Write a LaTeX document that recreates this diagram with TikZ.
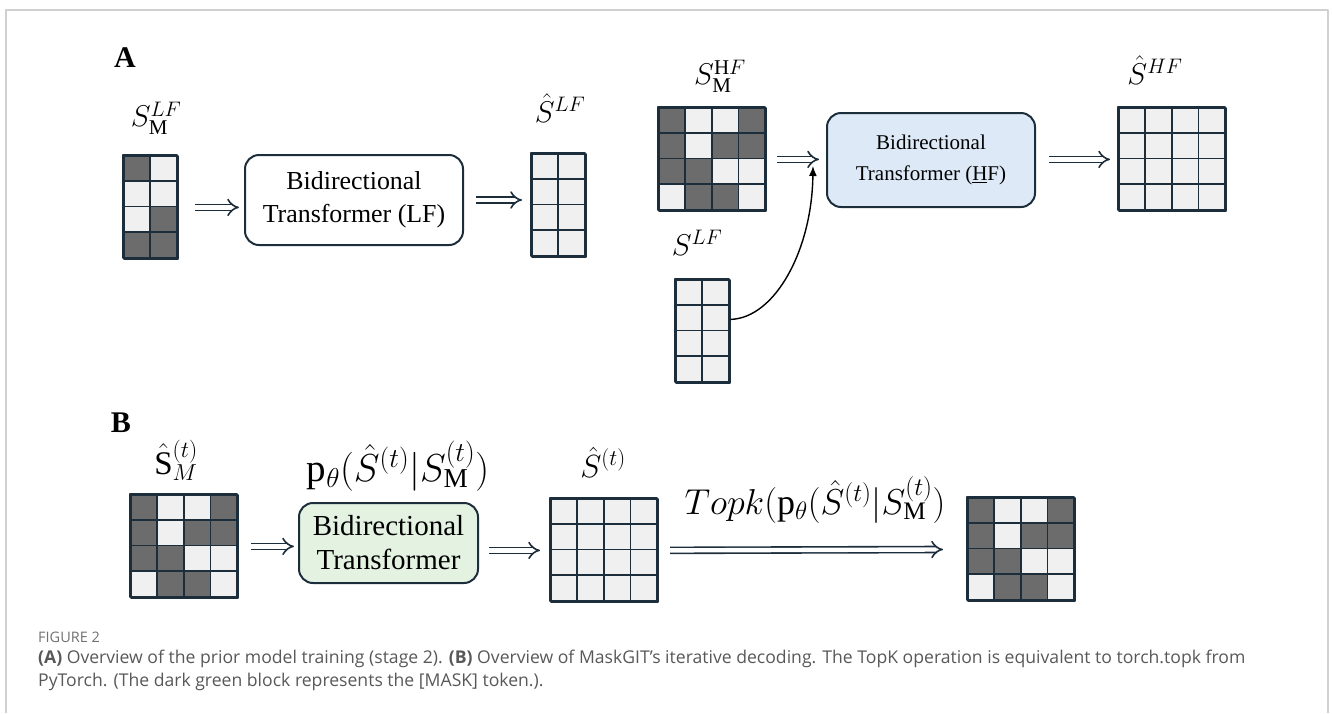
\RequirePackage{fix-cm}
\documentclass[tikz,border=0pt]{standalone}
\usepackage{fontspec}
\setmainfont{Liberation Serif}
\newfontfamily\capfont{Open Sans}
\usetikzlibrary{arrows.meta}

\definecolor{gridnavy}{RGB}{28,45,60}
\definecolor{maskgray}{RGB}{108,108,108}
\definecolor{tokenlight}{RGB}{240,240,240}
\definecolor{hfblue}{RGB}{221,233,246}
\definecolor{decgreen}{RGB}{228,242,226}
\definecolor{framegray}{RGB}{208,208,208}
\definecolor{capgray}{RGB}{88,88,88}

% token grid: name, left, top, columns, rows (1 = masked)
\newcommand{\tokgrid}[5]{%
  \foreach \rowspec [count=\rowno] in {#5} {
    \foreach \cellv [count=\colno] in \rowspec {
      \ifnum\cellv=1 \def\cellcol{maskgray}\else\def\cellcol{tokenlight}\fi
      \filldraw[fill=\cellcol,draw=gridnavy,line width=1.8pt]
        ({#2+(\colno-1)*26.8},{#3+(\rowno-1)*25.7}) rectangle ++(26.8,25.7);
    }
  }
  \node[inner sep=0pt,minimum width={#4*26.8pt},minimum height={4*25.7pt},
    anchor=north west,draw=gridnavy,line width=2pt] (#1) at (#2,#3) {};
}

\begin{document}
\begin{tikzpicture}[x=1pt,y=-1pt,line join=round,
    tfbox/.style={draw=gridnavy,line width=2pt,rounded corners=14pt,align=center,inner sep=2pt},
    fatarrow/.style={draw=gridnavy,double=white,double distance=4.4pt,line width=1.6pt,-{Implies}},
    lbl/.style={font=\fontsize{30}{36}\selectfont,inner sep=0pt}]
        \useasboundingbox (0,0) rectangle (1332,713);
        \draw[framegray,line width=1.2pt] (6,713) -- (6,10) -- (1328,10) -- (1328,713);

        % panel A
        \node[font=\fontsize{30}{36}\selectfont\bfseries] (tagA) at (125,58) {A};

        \tokgrid{lfin}{123}{155}{2}{{1,0},{0,0},{0,1},{1,1}}
        \node[lbl] (lfinlbl) at (156,118) {$S_{\mathrm{M}}^{LF}$};

        \node[tfbox,minimum width=218pt,minimum height=90pt,
            font=\fontsize{25.9}{33}\selectfont] (lfbox) at (354,200)
            {Bidirectional\\Transformer (LF)};

        \tokgrid{lfout}{531}{153}{2}{{0,0},{0,0},{0,0},{0,0}}
        \node[lbl] (lfoutlbl) at (560,108) {$\hat{S}^{LF}$};

        \draw[fatarrow,shorten <=16pt,shorten >=5pt] (lfin.east) -- (lfin.east -| lfbox.west);
        \draw[fatarrow,shorten <=12pt,shorten >=9pt] (lfbox.east) -- (lfbox.east -| lfout.west);

        \tokgrid{hfin}{658}{107}{4}{{1,0,0,1},{1,0,1,1},{1,1,0,0},{0,1,1,0}}
        \node[lbl] (hfinlbl) at (720,76) {$S_{\mathrm{M}}^{\mathrm{H}F}$};

        \node[tfbox,fill=hfblue,minimum width=208pt,minimum height=94pt,
            font=\fontsize{21}{31}\selectfont] (hfbox) at (931,160)
            {Bidirectional\\Transformer (\underline{H}F)};

        \tokgrid{hfout}{1118}{107}{4}{{0,0,0,0},{0,0,0,0},{0,0,0,0},{0,0,0,0}}
        \node[lbl] (hfoutlbl) at (1155,70) {$\hat{S}^{HF}$};

        \tokgrid{slf}{675}{279}{2}{{0,0},{0,0},{0,0},{0,0}}
        \node[lbl] (slflbl) at (697,243) {$S^{LF}$};

        \draw[fatarrow,shorten <=10pt,shorten >=7pt] (hfin.east) -- (hfin.east -| hfbox.west);
        \draw[fatarrow,shorten <=13pt,shorten >=8pt] (hfbox.east |- hfout.west) -- (hfout.west);

        \coordinate (merge) at (813,166);
        \draw[-{Latex[length=10pt,width=8pt]},line width=1.4pt] ([yshift=12pt]slf.east)
            .. controls (775,318) and (812,250) .. (merge);

        % panel B
        \node[font=\fontsize{30}{36}\selectfont\bfseries] (tagB) at (121,423) {B};

        \tokgrid{bin}{130}{494}{4}{{1,0,0,1},{1,0,1,1},{1,1,0,0},{0,1,1,0}}
        \node[lbl,font=\fontsize{33}{38}\selectfont] (binlbl) at (176,460) {$\hat{\mathrm{S}}_{M}^{(t)}$};

        \node[tfbox,fill=decgreen,minimum width=179pt,minimum height=80pt,
            font=\fontsize{29}{34}\selectfont] (bbox) at (388.5,543)
            {Bidirectional\\Transformer};
        \node[lbl,font=\fontsize{39}{44}\selectfont] (bboxlbl) at (398,466)
            {$\mathrm{p}_{\theta}(\hat{S}^{(t)}|S_{\mathrm{M}}^{(t)})$};

        \tokgrid{bout}{550}{498}{4}{{0,0,0,0},{0,0,0,0},{0,0,0,0},{0,0,0,0}}
        \node[lbl,font=\fontsize{32}{38}\selectfont] (boutlbl) at (603,462) {$\hat{S}^{(t)}$};

        \tokgrid{bfinal}{967}{497}{4}{{1,0,0,1},{1,0,1,1},{1,1,0,0},{0,1,1,0}}

        \draw[fatarrow,shorten <=12pt,shorten >=4pt] (bin.east) -- (bin.east -| bbox.west);
        \draw[fatarrow,shorten <=10pt,shorten >=10pt] (bout.west -| bbox.east) -- (bout.west);
        \draw[fatarrow,shorten <=11pt,shorten >=24pt] (bout.east) -- (bfinal.west);
        \node[lbl,font=\fontsize{36}{40}\selectfont] (topklbl) at (815,500)
            {$Topk(\mathrm{p}_{\theta}(\hat{S}^{(t)}|S_{\mathrm{M}}^{(t)})$};

        % caption
        \node[anchor=base west,inner sep=0pt,text=capgray!85,
            font=\capfont\fontsize{14.5}{17}\selectfont] (figtag) at (38,642) {FIGURE 2};
        \node[anchor=base west,inner sep=0pt,text=capgray,
            font=\capfont\fontsize{17.6}{23}\selectfont] (capline1) at (38,663)
            {\textbf{(A)} Overview of the prior model training (stage 2). \textbf{(B)} Overview of MaskGIT’s iterative decoding. The TopK operation is equivalent to torch.topk from};
        \node[anchor=base west,inner sep=0pt,text=capgray,
            font=\capfont\fontsize{17.6}{23}\selectfont] (capline2) at (38,686)
            {PyTorch. (The dark green block represents the [MASK] token.).};
    \end{tikzpicture}
\end{document}
